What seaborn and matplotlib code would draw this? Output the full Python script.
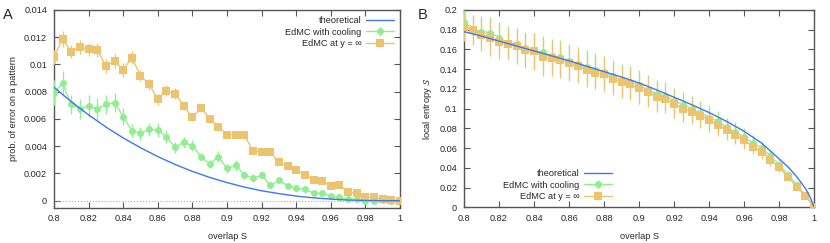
import numpy as np
import pandas as pd
import seaborn as sns
import matplotlib.pyplot as plt
from matplotlib.ticker import FormatStrFormatter, MultipleLocator

sns.set_theme(style="ticks")
plt.rcParams['font.family'] = ['Liberation Sans', 'DejaVu Sans']
plt.rcParams['mathtext.fontset'] = 'dejavusans'

# overlap grid of the simulations (41 points, 0.8 .. 1.0)
overlap = np.linspace(0.8, 1.0, 41)

# --- panel A: probability of error on a pattern ---
theo_s = [0.80, 0.81, 0.82, 0.83, 0.84, 0.85, 0.86, 0.87, 0.88, 0.89, 0.90,
          0.91, 0.92, 0.93, 0.94, 0.95, 0.96, 0.97, 0.98, 0.99, 1.00]
theo_err = [0.00833, 0.00727, 0.00630, 0.00541, 0.00461, 0.00389, 0.00324,
            0.00266, 0.00215, 0.00171, 0.00133, 0.00100, 0.00073, 0.00052,
            0.00034, 0.00021, 0.00012, 0.00005, 0.00002, 0.000003, 0.0]

cool_err = [0.00793, 0.00861, 0.00707, 0.00673, 0.00695, 0.00673, 0.00707,
            0.00720, 0.00617, 0.00514, 0.00494, 0.00524, 0.00519, 0.00470,
            0.00392, 0.00428, 0.00404, 0.00323, 0.00269, 0.00323, 0.00237,
            0.00259, 0.00191, 0.00164, 0.00188, 0.00113, 0.00149, 0.00110,
            0.00091, 0.00083, 0.00056, 0.00054, 0.00034, 0.00024, 0.00012,
            0.00012, 0.00000, 0.00000, 0.00002, 0.00000, 0.00000]
cool_err_sd = [0.0009, 0.0009, 0.0007, 0.0007, 0.0008, 0.0008, 0.0007,
               0.0007, 0.0006, 0.0005, 0.0005, 0.0005, 0.0005, 0.0005,
               0.0004, 0.0004, 0.0004, 0.0003, 0.0003, 0.0004, 0.0003,
               0.0004, 0.0003, 0.0003, 0.0003, 0.0002, 0.0002, 0.0002,
               0.0001, 0.0001, 0.0001, 0.0001, 0.0001, 0.0001, 0.0001,
               0.0001, 0.0001, 0.0000, 0.0000, 0.0000, 0.0000]

inf_err = [0.01057, 0.01185, 0.01094, 0.01130, 0.01110, 0.01106, 0.00991,
           0.01025, 0.00959, 0.01050, 0.00918, 0.00854, 0.00746, 0.00808,
           0.00786, 0.00695, 0.00612, 0.00683, 0.00602, 0.00541, 0.00485,
           0.00485, 0.00482, 0.00365, 0.00360, 0.00360, 0.00281, 0.00257,
           0.00223, 0.00191, 0.00152, 0.00144, 0.00108, 0.00113, 0.00064,
           0.00054, 0.00027, 0.00024, 0.00012, 0.00007, 0.00000]
inf_err_sd = [0.0005, 0.0006, 0.0005, 0.0005, 0.0005, 0.0005, 0.0005,
              0.0005, 0.0005, 0.0005, 0.0004, 0.0004, 0.0004, 0.0004,
              0.0004, 0.0003, 0.0003, 0.0003, 0.0003, 0.0003, 0.0002,
              0.0002, 0.0002, 0.0002, 0.0002, 0.0002, 0.0001, 0.0001,
              0.0001, 0.0001, 0.0001, 0.0001, 0.0001, 0.0001, 0.0001,
              0.0001, 0.0001, 0.0000, 0.0000, 0.0000, 0.0000]

# --- panel B: local entropy ---
theo_s_b = [0.80, 0.81, 0.82, 0.83, 0.84, 0.85, 0.86, 0.87, 0.88, 0.89, 0.90,
            0.91, 0.92, 0.93, 0.94, 0.95, 0.96, 0.97, 0.98, 0.985, 0.99,
            0.995, 0.9975, 1.0]
theo_ent = [0.178, 0.1735, 0.1685, 0.1635, 0.1585, 0.1535, 0.1485, 0.143,
            0.1375, 0.132, 0.126, 0.119, 0.1115, 0.104, 0.096, 0.087, 0.077,
            0.065, 0.049, 0.041, 0.031, 0.019, 0.011, 0.0]

cool_ent = [0.188, 0.1805, 0.178, 0.177, 0.172, 0.167, 0.165, 0.161, 0.159,
            0.157, 0.153, 0.152, 0.148, 0.145, 0.142, 0.139, 0.137, 0.133,
            0.129, 0.127, 0.124, 0.119, 0.115, 0.113, 0.108, 0.104, 0.100,
            0.096, 0.091, 0.087, 0.081, 0.076, 0.071, 0.065, 0.060, 0.052,
            0.043, 0.033, 0.023, 0.012, 0.0]
cool_ent_sd = [0.012, 0.014, 0.016, 0.016, 0.016, 0.017, 0.017, 0.017, 0.018,
               0.017, 0.018, 0.018, 0.018, 0.017, 0.017, 0.017, 0.016, 0.016,
               0.016, 0.016, 0.015, 0.015, 0.014, 0.014, 0.013, 0.013, 0.013,
               0.012, 0.012, 0.011, 0.010, 0.010, 0.009, 0.008, 0.007, 0.006,
               0.005, 0.004, 0.003, 0.002, 0.0]

inf_ent = [0.1824, 0.1797, 0.1747, 0.1713, 0.168, 0.165, 0.163, 0.159, 0.158,
           0.152, 0.151, 0.149, 0.146, 0.143, 0.139, 0.1365, 0.135, 0.130,
           0.127, 0.1247, 0.1206, 0.117, 0.112, 0.110, 0.105, 0.100, 0.097,
           0.093, 0.0885, 0.0834, 0.0784, 0.0733, 0.068, 0.0615, 0.056, 0.048,
           0.0405, 0.0304, 0.021, 0.0118, 0.0]
inf_ent_sd = [0.014, 0.015, 0.016, 0.018, 0.018, 0.015, 0.018, 0.018, 0.019,
              0.019, 0.018, 0.018, 0.018, 0.017, 0.017, 0.017, 0.017, 0.016,
              0.016, 0.016, 0.016, 0.015, 0.015, 0.014, 0.014, 0.014, 0.013,
              0.013, 0.012, 0.011, 0.010, 0.009, 0.009, 0.008, 0.007, 0.006,
              0.005, 0.004, 0.003, 0.002, 0.0]

blue = '#3d78f0'
green = '#90ee90'
orange = '#ecc36e'
fs = 6.6

fig = plt.figure(figsize=(8.3, 2.43), dpi=100)
axA = fig.add_axes([0.065, 0.146, 0.417, 0.813])
axB = fig.add_axes([0.559, 0.147, 0.422, 0.812])


def draw_series(ax, x, y, sd, color, marker, ms, label):
    ax.errorbar(x, y, yerr=sd, color=color, marker=marker, ms=ms, mew=0,
                lw=1.0, elinewidth=0.9, capsize=2.6, capthick=0.9,
                label=label, ecolor=color, zorder=3)


def style_axes(ax):
    ax.set_xlim(0.8, 1.0)
    ax.xaxis.set_major_locator(MultipleLocator(0.02))
    ax.xaxis.set_major_formatter(FormatStrFormatter('%g'))
    ax.yaxis.set_major_formatter(FormatStrFormatter('%g'))
    ax.tick_params(direction='in', top=True, right=True, length=4,
                   width=0.8, color='#555555', labelsize=fs, pad=5)
    for sp in ax.spines.values():
        sp.set_visible(True)
        sp.set_color('#555555')
        sp.set_linewidth(1.0)
    ax.set_xlabel('overlap S', fontsize=fs, labelpad=6)


# panel A
axA.axhline(0, color='#aaaaaa', ls=':', lw=0.8, zorder=1)
sns.lineplot(x=theo_s, y=theo_err, ax=axA, color=blue, lw=1.0,
             label='theoretical', zorder=4)
draw_series(axA, overlap, cool_err, cool_err_sd, green, 'o', 5.0,
            'EdMC with cooling')
draw_series(axA, overlap, inf_err, inf_err_sd, orange, 's', 5.6,
            'EdMC at y = \u221e')
axA.set_ylim(-0.0005, 0.014)
axA.yaxis.set_major_locator(MultipleLocator(0.002))
style_axes(axA)
axA.set_ylabel('prob. of error on a pattern', fontsize=fs, labelpad=4)
axA.legend(loc='upper right', frameon=False, markerfirst=False, fontsize=fs,
           handlelength=3.0, labelspacing=0.25, handletextpad=0.5,
           borderaxespad=0.3)

# panel B
sns.lineplot(x=theo_s_b, y=theo_ent, ax=axB, color=blue, lw=1.0,
             label='theoretical', zorder=4)
draw_series(axB, overlap, cool_ent, cool_ent_sd, green, 'o', 5.0,
            'EdMC with cooling')
draw_series(axB, overlap, inf_ent, inf_ent_sd, orange, 's', 5.6,
            'EdMC at y = \u221e')
axB.set_ylim(0, 0.2)
axB.yaxis.set_major_locator(MultipleLocator(0.02))
style_axes(axB)
axB.set_ylabel(r'local entropy $\mathcal{S}$', fontsize=fs, labelpad=4)
axB.legend(loc='lower right', bbox_to_anchor=(0.44, 0.0), frameon=False,
           markerfirst=False, fontsize=fs, handlelength=3.0,
           labelspacing=0.25, handletextpad=0.5, borderaxespad=0.3)

fig.text(0.004, 0.92, 'A', fontsize=10.5)
fig.text(0.503, 0.92, 'B', fontsize=10.5)

fig.savefig('out.png', dpi=100)
